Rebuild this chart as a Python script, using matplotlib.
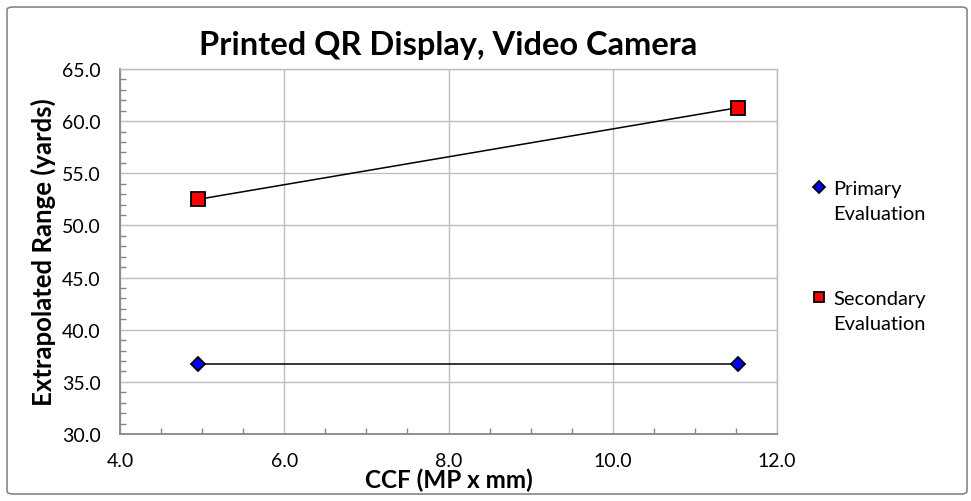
import matplotlib
matplotlib.use("Agg")
import matplotlib.pyplot as plt
from matplotlib.patches import FancyBboxPatch
from matplotlib.ticker import MultipleLocator, FormatStrFormatter

plt.rcParams['font.family'] = ['Lato', 'DejaVu Sans']

# data
ccf = [4.95, 11.53]
primary = [36.7, 36.7]
secondary = [52.5, 61.3]
series_first = ["Primary", "Secondary"]
series_second = ["Evaluation", "Evaluation"]

W, H = 971, 502
fig = plt.figure(figsize=(W / 100, H / 100), dpi=100)
ax = fig.add_axes([120 / W, 1 - 435 / H, (777 - 120) / W, (435 - 70) / H])

# chart border like the spreadsheet chart area
border = FancyBboxPatch((7 / W, 7 / H), 960 / W, 487 / H,
                        boxstyle="round,pad=0,rounding_size=0.006",
                        transform=fig.transFigure, fill=False,
                        edgecolor='#868686', linewidth=1.2)
fig.patches.append(border)

l1, = ax.plot(ccf, primary, color='black', lw=1.1, marker='D', ms=7.3,
              mfc='#0000FF', mec='black', mew=1.3)
l2, = ax.plot(ccf, secondary, color='black', lw=1.1, marker='s', ms=9.8,
              mfc='#FF0000', mec='black', mew=1.3)

ax.set_xlim(4, 12)
ax.set_ylim(30, 65)
ax.xaxis.set_major_locator(MultipleLocator(2))
ax.xaxis.set_minor_locator(MultipleLocator(0.5))
ax.yaxis.set_major_locator(MultipleLocator(5))
ax.yaxis.set_minor_locator(MultipleLocator(1))
ax.xaxis.set_major_formatter(FormatStrFormatter('%.1f'))
ax.yaxis.set_major_formatter(FormatStrFormatter('%.1f'))

ax.grid(True, which='major', color='#BEBEBE', lw=1.0)
ax.set_axisbelow(True)
ax.tick_params(which='both', direction='in', color='#868686', width=1.0,
               labelsize=14)
ax.tick_params(which='major', length=0)
ax.tick_params(which='minor', length=4.5)
ax.tick_params(axis='x', pad=13)
ax.tick_params(axis='y', pad=14)

for side in ['left', 'bottom']:
    ax.spines[side].set_color('#868686')
    ax.spines[side].set_linewidth(1.3)
for side in ['top', 'right']:
    ax.spines[side].set_color('#BEBEBE')
    ax.spines[side].set_linewidth(1.0)

ax.set_title("Printed QR Display, Video Camera", fontsize=23.5,
             fontweight='bold', pad=11)
ax.set_xlabel("CCF (MP x mm)", fontsize=17.5, fontweight='bold', labelpad=-1)
ax.set_ylabel("Extrapolated Range (yards)", fontsize=18.5, fontweight='bold',
              labelpad=4)

leg = fig.legend(handles=[l1, l2], labels=series_first, loc='upper left',
                 bbox_to_anchor=(812 / W, 1 - 181 / H), frameon=False,
                 fontsize=14.5, handlelength=0.7, handletextpad=0.35,
                 labelspacing=4.6, markerscale=0.78, borderpad=0,
                 borderaxespad=0)
for h in leg.legend_handles:
    h.set_linestyle('none')

# second line of each legend label, aligned under the first line
fig.canvas.draw()
inv = fig.transFigure.inverted()
for t, extra in zip(leg.get_texts(), series_second):
    bb = t.get_window_extent()
    x0, y0 = inv.transform((bb.x0, bb.y0))
    fig.text(x0, y0 - 8 / H, extra, fontsize=14.5, va='top', ha='left')

fig.savefig("out.png", dpi=100)
